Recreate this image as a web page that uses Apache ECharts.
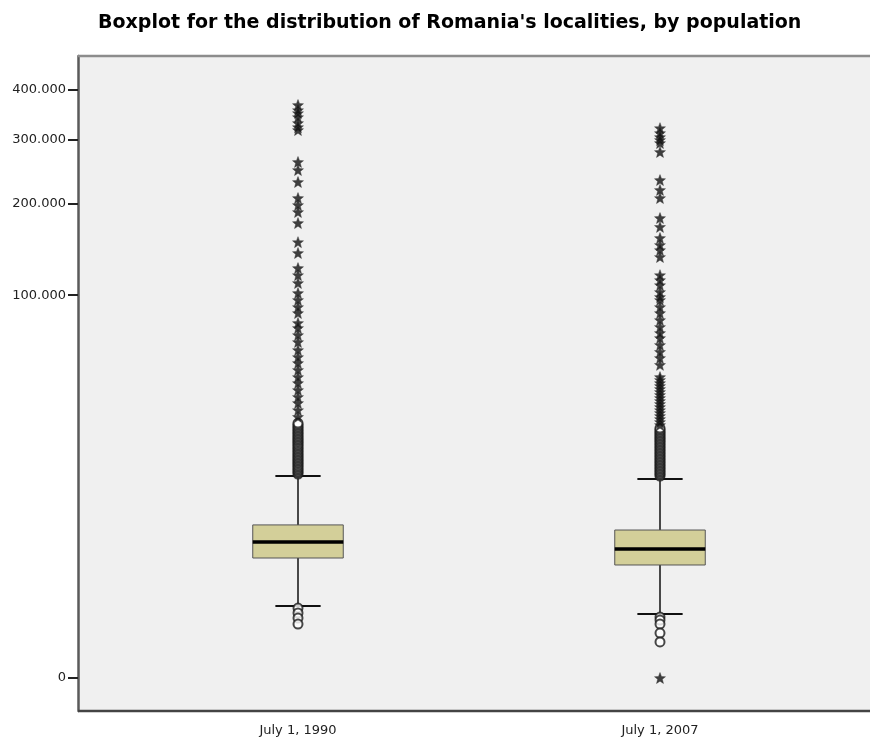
<!DOCTYPE html>
<html>
<head>
<meta charset="utf-8">
<script src="https://cdn.jsdelivr.net/npm/echarts@6/dist/echarts.min.js"></script>
<style>
  html, body { margin: 0; padding: 0; background: #fff; }
  #chart { width: 870px; height: 738px; }
</style>
</head>
<body>
<div id="chart"></div>
<script>
const categories = ["July 1, 1990", "July 1, 2007"];
// lower whisker, Q1, median, Q3, upper whisker
const box1990 = [456, 2370, 3550, 5200, 12700];
const box2007 = [312, 1953, 2995, 4660, 12100];
// outliers (circles)
const outliers1990 = [
  416, 328, 253, 180,
  13120, 13430, 13750, 14080, 14410, 14750, 15090, 15440, 15790, 16140,
  16500, 16870, 17240, 17620, 18000, 18390, 18790, 19190, 19600, 20020,
  20440, 20870, 21300, 21730, 22160, 22620, 23080, 23540, 24010, 24480,
  24960, 25450, 25950, 26450, 26960
];
const outliers2007 = [
  267, 227, 180, 100, 49,
  12700, 13010, 13330, 13650, 13970, 14300, 14630, 14970, 15310, 15660,
  16010, 16370, 16740, 17110, 17490, 17870, 18260, 18650, 19050, 19460,
  19870, 20290, 20720, 21150, 21590, 22030, 22470, 22930, 23390, 23850,
  24320, 24800, 25290
];
// extreme values (stars)
const extremes1990 = [
  29100, 31600, 34400, 36900, 39900, 43100, 46000, 49600, 53300, 56600,
  60700, 65600, 70100, 74900, 78400, 85700, 90300, 96000, 101800, 110600,
  117900, 124700, 140100, 152000, 174500, 188500, 197800, 207400, 230600,
  249000, 262000, 318000, 323500, 331300, 342800, 350800, 356800, 367300
];
const extremes2007 = [
  0,
  26290, 27310, 28350, 29430, 30530, 31600, 32810, 34020, 35240, 36490,
  37760, 39060, 40400, 41760, 43100, 44600, 46000, 52300, 56100, 59600,
  63800, 68200, 71500, 75600, 80500, 85700, 90300, 96000, 98500, 102700,
  108700, 113300, 117900, 135900, 143200, 148800, 156700, 169800, 180800,
  207400, 218900, 233500, 278800, 294300, 299800, 305000, 312300, 321600
];
const yTicks = [0, 100000, 200000, 300000, 400000];

// the value axis of the original is compressed (power scale)
const P = 0.31;
const tf = v => Math.pow(v, P);
const inv = t => Math.pow(Math.max(t, 0), 1 / P);

const fmt = v => String(Math.round(v / 1000) * 1000).replace(/\B(?=(\d{3})+(?!\d))/g, ".");

const star = "path://M0,-10 L2.6,-3.4 9.5,-3.1 4.1,1.3 6,8.1 0,4.3 -6,8.1 -4.1,1.3 -9.5,-3.1 -2.6,-3.4Z";

const chart = echarts.init(document.getElementById("chart"));
const option = {
  backgroundColor: "#fff",
  animation: false,
  title: {
    text: "Boxplot for the distribution of Romania's localities, by population",
    left: 93,
    top: 9,
    textStyle: {
      fontFamily: "DejaVu Sans",
      fontSize: 19,
      fontWeight: "bold",
      color: "#000"
    }
  },
  grid: {
    left: 117,
    right: 29,
    top: 56,
    bottom: 27,
    containLabel: false
  },
  graphic: [
    {
      type: "rect",
      z: -10,
      shape: { x: 78, y: 56, width: 792, height: 655 },
      style: { fill: "#f0f0f0" }
    },
    {
      type: "line",
      z: 10,
      shape: { x1: 78, y1: 56, x2: 870, y2: 56 },
      style: { stroke: "#8c8c8c", lineWidth: 2.5 }
    },
    {
      type: "line",
      z: 10,
      shape: { x1: 78, y1: 711, x2: 870, y2: 711 },
      style: { stroke: "#444", lineWidth: 2.5 }
    }
  ],
  xAxis: {
    type: "category",
    data: categories,
    boundaryGap: true,
    axisLine: { show: false },
    axisTick: { show: false },
    splitLine: { show: false },
    axisLabel: {
      margin: 13,
      fontFamily: "DejaVu Sans",
      fontSize: 13,
      color: "#222"
    }
  },
  yAxis: {
    type: "value",
    offset: 39,
    min: -3.058,
    max: 57.65,
    splitLine: { show: false },
    axisLine: {
      show: true,
      lineStyle: { color: "#5a5a5a", width: 2.5 }
    },
    axisTick: {
      show: true,
      length: 10,
      customValues: yTicks.map(tf),
      lineStyle: { color: "#222", width: 2 }
    },
    axisLabel: {
      show: true,
      margin: 12,
      customValues: yTicks.map(tf),
      fontFamily: "DejaVu Sans",
      fontSize: 13,
      color: "#222",
      formatter: function (val) {
        return fmt(inv(val));
      }
    }
  },
  series: [
    {
      type: "custom",
      name: "box",
      renderItem: function (params, api) {
        const x = api.value(0);
        const lo = api.coord([x, api.value(1)]);
        const q1 = api.coord([x, api.value(2)]);
        const med = api.coord([x, api.value(3)]);
        const q3 = api.coord([x, api.value(4)]);
        const hi = api.coord([x, api.value(5)]);
        const bw = api.size([1, 0])[0] * 0.25;
        const cw = bw / 2;
        const cx = med[0];
        const lineStyle = { stroke: "#111", lineWidth: 1.5 };
        return {
          type: "group",
          children: [
            { type: "line", shape: { x1: cx, y1: q1[1], x2: cx, y2: lo[1] }, style: lineStyle },
            { type: "line", shape: { x1: cx, y1: q3[1], x2: cx, y2: hi[1] }, style: lineStyle },
            { type: "line", shape: { x1: cx - cw / 2, y1: lo[1], x2: cx + cw / 2, y2: lo[1] }, style: { stroke: "#111", lineWidth: 2 } },
            { type: "line", shape: { x1: cx - cw / 2, y1: hi[1], x2: cx + cw / 2, y2: hi[1] }, style: { stroke: "#111", lineWidth: 2 } },
            {
              type: "rect",
              shape: { x: cx - bw / 2, y: q3[1], width: bw, height: q1[1] - q3[1] },
              style: { fill: "#d3cf99", stroke: "#555", lineWidth: 1 }
            },
            { type: "line", shape: { x1: cx - bw / 2, y1: med[1], x2: cx + bw / 2, y2: med[1] }, style: { stroke: "#000", lineWidth: 3.5 } }
          ]
        };
      },
      data: [
        [0].concat(box1990.map(tf)),
        [1].concat(box2007.map(tf))
      ]
    },
    {
      type: "scatter",
      name: "outliers",
      symbol: "emptyCircle",
      symbolSize: 9,
      itemStyle: { color: "#1a1a1a", borderWidth: 1.3 },
      data: outliers1990.map(v => [0, tf(v)]).concat(outliers2007.map(v => [1, tf(v)]))
    },
    {
      type: "scatter",
      name: "extremes",
      symbol: star,
      symbolSize: 11,
      itemStyle: { color: "#111", borderColor: "#333", borderWidth: 0.5 },
      data: extremes1990.map(v => [0, tf(v)]).concat(extremes2007.map(v => [1, tf(v)]))
    }
  ]
};
chart.setOption(option);
</script>
</body>
</html>
